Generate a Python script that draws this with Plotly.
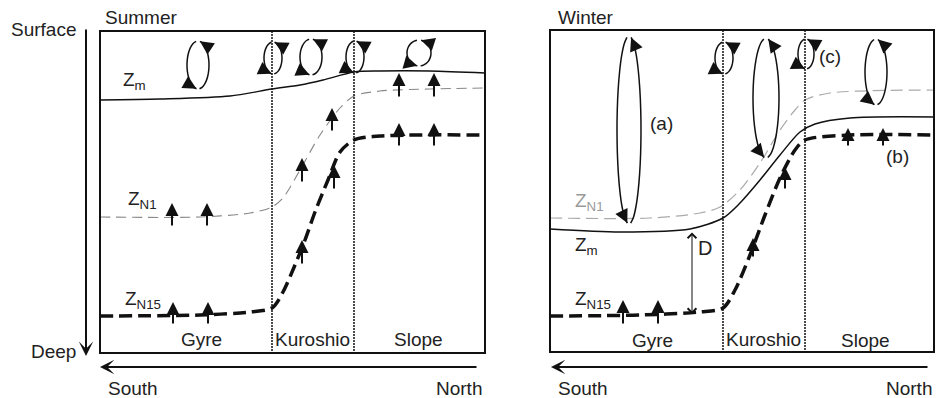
import math
import plotly.graph_objects as go

# ---------------- data (pixel-space schematic coordinates) ----------------
# Summer panel profiles
S_ZM_X = [100, 160, 230, 272, 300, 323, 354, 380, 430, 485]
S_ZM_Y = [100, 99, 96, 89, 85, 80, 72, 71, 71, 73]
S_N1_X = [100, 200, 250, 272, 283, 300, 320, 340, 354, 380, 430, 485]
S_N1_Y = [217, 217, 213, 207, 198, 170, 135, 108, 96, 91, 89, 88]
S_N15_X = [100, 200, 250, 272, 283, 295, 305, 315, 328, 340, 354, 380, 485]
S_N15_Y = [316, 315, 312, 308, 292, 265, 240, 212, 180, 152, 140, 136, 135]
# Winter panel profiles
W_N1_X = [550, 650, 700, 720, 740, 760, 780, 795, 805, 830, 935]
W_N1_Y = [218, 218, 213, 207, 190, 163, 130, 110, 100, 93, 90]
W_ZM_X = [550, 620, 690, 723, 740, 760, 780, 800, 815, 850, 935]
W_ZM_Y = [229, 232, 229, 218, 203, 180, 155, 132, 124, 118, 117]
W_N15_X = [550, 640, 700, 723, 735, 750, 765, 780, 795, 805, 850, 935]
W_N15_Y = [316, 315, 312, 308, 290, 255, 215, 178, 150, 140, 135, 135]

# vertical upward arrows: x, tail y, tip y
UP_X = [172, 207, 173, 208, 399, 434, 399, 434, 332, 302, 334, 302,
        623, 658, 848, 883, 785, 753]
UP_TAIL = [227, 227, 325, 325, 98, 98, 147, 147, 132, 183, 190, 265,
           325, 325, 147, 147, 190, 258]
UP_TIP = [203, 203, 302, 302, 73, 73, 123, 123, 108, 158, 165, 240,
          300, 300, 128, 128, 167, 238]

# eddies: centre x, centre y, half width, half height
EDDY_CX = [198, 273, 311, 355, 419, 629, 766, 876, 724, 806]
EDDY_CY = [65, 58, 57, 57, 53, 130, 98, 72, 58, 54]
EDDY_W = [11, 9, 11, 9, 12, 12, 13, 11, 9, 8]
EDDY_H = [24, 16, 18, 16, 13, 94, 60, 33, 16, 15]

DIVIDERS_S = [272, 354]
DIVIDERS_W = [723, 805]

FONT = "Liberation Sans, Arial, sans-serif"
TXT = "#222"

fig = go.Figure()


def line(x, y, color, width, dash="solid"):
    fig.add_trace(go.Scatter(x=x, y=y, mode="lines",
                             line=dict(color=color, width=width, dash=dash,
                                       shape="spline", smoothing=0.8),
                             hoverinfo="skip", showlegend=False))


line(S_ZM_X, S_ZM_Y, "#111", 1.4)
line(S_N1_X, S_N1_Y, "#888", 1.1, "10px,6px")
line(S_N15_X, S_N15_Y, "#111", 3.5, "13px,6px")
line(W_N1_X, W_N1_Y, "#aaa", 1.2, "12px,6px")
line(W_ZM_X, W_ZM_Y, "#111", 1.5)
line(W_N15_X, W_N15_Y, "#111", 3.5, "13px,6px")

annotations = []


def arrow(x, y, ax, ay, width=2, size=1.0, head=3, side="end", color="#111"):
    annotations.append(dict(x=x, y=y, ax=ax, ay=ay, xref="x", yref="y",
                            axref="x", ayref="y", text="", showarrow=True,
                            arrowhead=head, arrowsize=size, arrowwidth=width,
                            arrowcolor=color, arrowside=side, standoff=0,
                            startstandoff=0))


def text(x, y, s, size=19, xa="left", ya="middle", color=TXT):
    annotations.append(dict(x=x, y=y, xref="x", yref="y", text=s,
                            showarrow=False, xanchor=xa, yanchor=ya,
                            font=dict(family=FONT, size=size, color=color)))


# eddies
for cx, cy, w, h in zip(EDDY_CX, EDDY_CY, EDDY_W, EDDY_H):
    for t0, t1 in ((-100, -262), (82, -80)):
        n = 13
        ts = [math.radians(t0 + (t1 - t0) * i / (n - 1)) for i in range(n)]
        xs = [cx + w * math.cos(t) for t in ts]
        ys = [cy + h * math.sin(t) for t in ts]
        fig.add_trace(go.Scatter(x=xs, y=ys, mode="lines",
                                 line=dict(color="#111", width=1.5, shape="spline"),
                                 hoverinfo="skip", showlegend=False))
        dx, dy = xs[-1] - xs[-2], ys[-1] - ys[-2]
        d = math.hypot(dx, dy) or 1
        arrow(xs[-1], ys[-1], xs[-1] - 13 * dx / d, ys[-1] - 13 * dy / d,
              width=1.5, size=1.8, head=2)

# upward arrows on the isolines
for x, t0, t1 in zip(UP_X, UP_TAIL, UP_TIP):
    arrow(x, t1, x, t0, width=2, size=1.3, head=2)

# boxes
shapes = [
    dict(type="rect", x0=100, x1=485, y0=31, y1=353, xref="x", yref="y",
         line=dict(color="#111", width=2)),
    dict(type="rect", x0=550, x1=934, y0=30, y1=352, xref="x", yref="y",
         line=dict(color="#111", width=2)),
]
for xd in DIVIDERS_S:
    shapes.append(dict(type="line", x0=xd, x1=xd, y0=31, y1=353, xref="x", yref="y",
                       line=dict(color="#111", width=1.5, dash="2px,1px")))
for xd in DIVIDERS_W:
    shapes.append(dict(type="line", x0=xd, x1=xd, y0=30, y1=352, xref="x", yref="y",
                       line=dict(color="#111", width=1.5, dash="2px,1px")))

# axis arrows
arrow(86, 356, 86, 28, width=2, size=1.2, head=3)
arrow(100, 367, 478, 367, width=2, size=1.2, head=3)
arrow(551, 367, 929, 367, width=2, size=1.2, head=3)
# D arrow
arrow(692, 314, 692, 231, width=1, size=1.7, head=4, side="end+start")

# text
text(9, 29, "Surface")
text(29, 351, "Deep")
text(103, 17, "Summer")
text(556, 17, "Winter")
text(106, 388, "South")
text(484, 388, "North", xa="right")
text(556, 388, "South")
text(934, 388, "North", xa="right")

text(121, 81, "Z<sub>m</sub>")
text(126, 200, "Z<sub>N1</sub>")
text(123, 300, "Z<sub>N15</sub>")
text(201, 339, "Gyre", xa="center")
text(312, 339, "Kuroshio", xa="center")
text(418, 339, "Slope", xa="center")

text(573, 202, "Z<sub>N1</sub>", color="#999")
text(573, 246, "Z<sub>m</sub>")
text(573, 300, "Z<sub>N15</sub>")
text(696, 248, "D", 20)
text(652, 340, "Gyre", xa="center")
text(763, 339, "Kuroshio", xa="center")
text(865, 340, "Slope", xa="center")
text(648, 123, "(a)")
text(884, 156, "(b)")
text(817, 56, "(c)")

fig.update_layout(
    width=936, height=398, margin=dict(l=0, r=0, t=0, b=0),
    paper_bgcolor="white", plot_bgcolor="white",
    xaxis=dict(range=[0, 936], visible=False, fixedrange=True),
    yaxis=dict(range=[398, 0], visible=False, fixedrange=True),
    shapes=shapes, annotations=annotations, showlegend=False,
)

fig.write_html(
    "out.html",
    config={"displayModeBar": False},
    post_script="document.body.style.margin='0';"
                "document.documentElement.style.overflow='hidden';",
)
